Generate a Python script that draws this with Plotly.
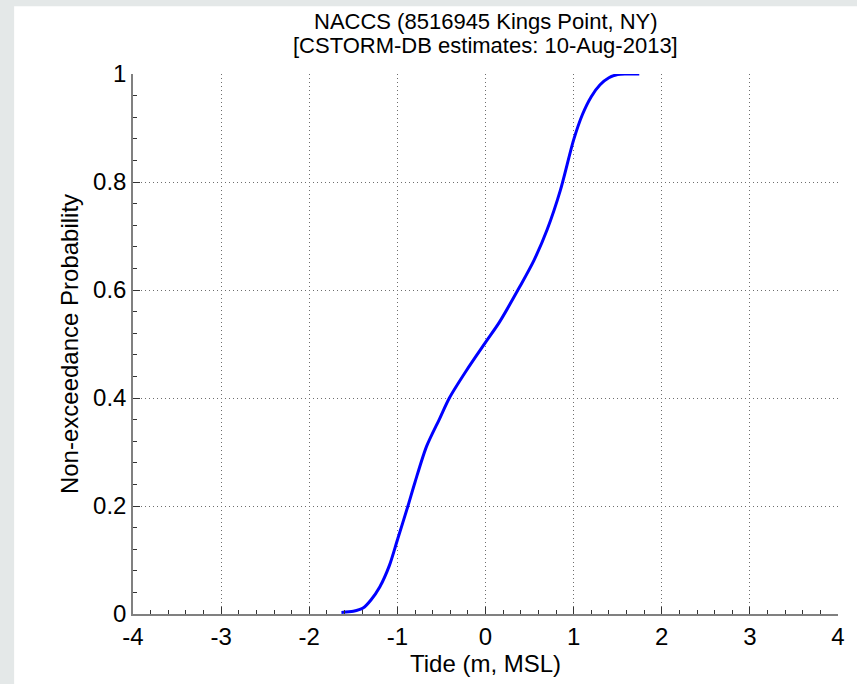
import plotly.graph_objects as go

# CDF of tide
tide_m = [-1.635, -1.50, -1.39, -1.30, -1.20, -1.09, -1.00, -0.88, -0.80, -0.67, -0.52,
          -0.41, -0.22, 0.0, 0.16, 0.385, 0.55, 0.70, 0.85, 1.00, 1.10, 1.20, 1.30,
          1.40, 1.50, 1.60, 1.745]
prob = [0.003, 0.005, 0.011, 0.026, 0.050, 0.090, 0.137, 0.200, 0.244, 0.310, 0.362,
        0.400, 0.450, 0.503, 0.541, 0.605, 0.655, 0.712, 0.785, 0.878, 0.925, 0.958, 0.980,
        0.993, 0.999, 1.0, 1.0]

x_ticks = [-4, -3, -2, -1, 0, 1, 2, 3, 4]
x_ticktext = ["-4", "-3", "-2", "-1", "0", "1", "2", "3", "4"]
y_ticks = [0, 0.2, 0.4, 0.6, 0.8, 1]
y_ticktext = ["0", "0.2", "0.4", "0.6", "0.8", "1"]

title_1 = "NACCS (8516945 Kings Point, NY)"
title_2 = "[CSTORM-DB estimates: 10-Aug-2013]"

FONT = "Liberation Sans, Arial, sans-serif"
GREY = "#e4e8e8"

fig = go.Figure()
fig.add_trace(go.Scatter(x=tide_m, y=prob, mode="lines",
                         line=dict(color="#0000ff", width=3, shape="spline", smoothing=0.8),
                         showlegend=False, hoverinfo="skip"))

axis_common = dict(
    showgrid=True, gridcolor="#6e6e6e", griddash="1px,3px", gridwidth=1,
    showline=True, linecolor="#808080", linewidth=1.5,
    ticks="inside", ticklen=7, tickwidth=1, tickcolor="#333333",
    zeroline=False, mirror=False,
    tickfont=dict(family=FONT, size=24, color="#000000"),
)

fig.update_xaxes(range=[-4, 4], tickvals=x_ticks, ticktext=x_ticktext,
                 minor=dict(dtick=0.2, ticks="inside", ticklen=4, tickcolor="#333333", showgrid=False),
                 title=dict(text="Tide (m, MSL)", font=dict(family=FONT, size=24, color="#000"), standoff=6),
                 **axis_common)
fig.update_yaxes(range=[0, 1], tickvals=y_ticks, ticktext=y_ticktext,
                 minor=dict(dtick=0.04, ticks="inside", ticklen=4, tickcolor="#333333", showgrid=False),
                 title=dict(text="Non-exceedance Probability", font=dict(family=FONT, size=24, color="#000"), standoff=8),
                 **axis_common)

# grey backdrop strips (left and top edges of the page)
fig.add_shape(type="rect", xref="paper", yref="paper", x0=-0.25, x1=-0.1686, y0=-0.2, y1=1.2,
              fillcolor=GREY, line=dict(width=0), layer="below")
fig.add_shape(type="rect", xref="paper", yref="paper", x0=-0.25, x1=1.1, y0=1.1255, y1=1.2,
              fillcolor=GREY, line=dict(width=0), layer="below")

fig.add_annotation(text=title_1, xref="paper", yref="paper", x=0.5, y=1.0978,
                   xanchor="center", yanchor="middle", showarrow=False,
                   font=dict(family=FONT, size=22, color="#000"))
fig.add_annotation(text=title_2, xref="paper", yref="paper", x=0.5, y=1.0535,
                   xanchor="center", yanchor="middle", showarrow=False,
                   font=dict(family=FONT, size=22, color="#000"))

fig.update_layout(width=857, height=684, margin=dict(l=133, r=18, t=74, b=68),
                  paper_bgcolor="#ffffff", plot_bgcolor="#ffffff",
                  font=dict(family=FONT))

fig.write_html("out.html")
